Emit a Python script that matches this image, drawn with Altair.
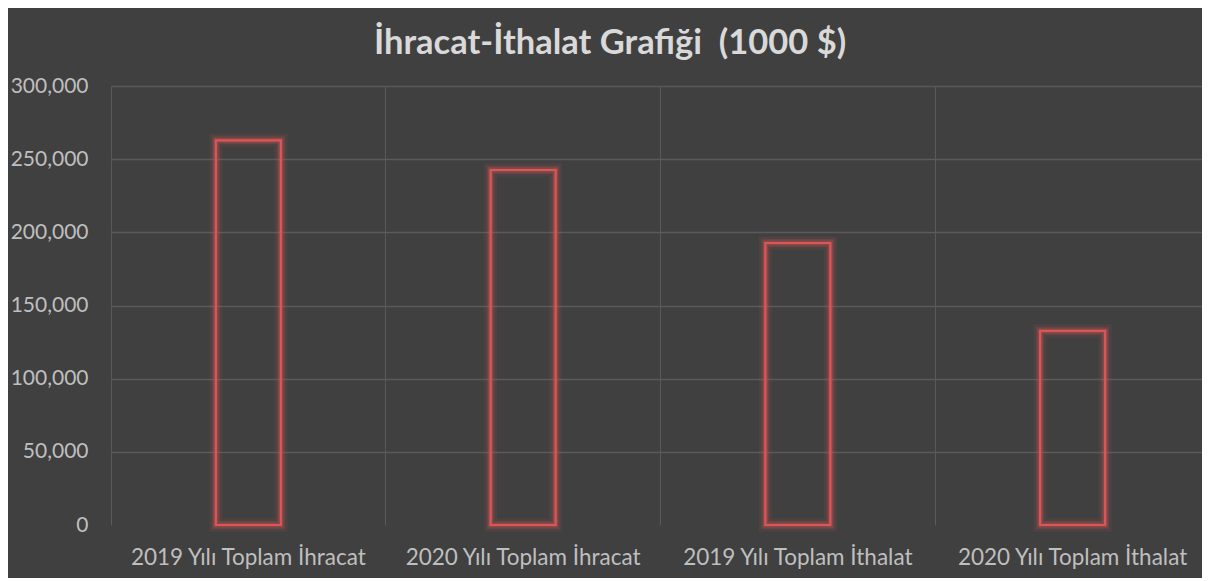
import altair as alt
import pandas as pd

categories = [
    "2019 Yılı Toplam İhracat",
    "2020 Yılı Toplam İhracat",
    "2019 Yılı Toplam İthalat",
    "2020 Yılı Toplam İthalat",
]
values = [262900, 242600, 192700, 132600]
y_ticks = [0, 50000, 100000, 150000, 200000, 250000, 300000]

df = pd.DataFrame({"category": categories, "value": values})

FONT = "Lato"
BG = "#404040"
GRID = "#5a5a5a"
RED = "#de5555"

x_enc = alt.X(
    "category:N",
    sort=categories,
    scale=alt.Scale(paddingInner=0, paddingOuter=0, range=[0, 1099]),
    axis=alt.Axis(
        title=None,
        labelAngle=0,
        domain=False,
        ticks=False,
        grid=True,
        bandPosition=0,
        gridColor=GRID,
        gridWidth=1,
        labelFont=FONT,
        labelFontSize=22.5,
        labelColor="#bfbfbf",
        labelPadding=21,
        labelLimit=0,
    ),
)
y_enc = alt.Y(
    "value:Q",
    scale=alt.Scale(domain=[0, 300000]),
    axis=alt.Axis(
        title=None,
        values=y_ticks,
        format=",d",
        domain=False,
        ticks=False,
        grid=True,
        gridColor=GRID,
        gridWidth=1.5,
        gridOpacity=alt.condition("datum.value == 0", alt.value(0), alt.value(1)),
        labelFont=FONT,
        labelFontSize=21,
        labelColor="#bfbfbf",
        labelPadding=23,
    ),
)

base = alt.Chart(df).encode(x=x_enc, y=y_enc)

glow1 = base.mark_bar(size=65, fill=None, stroke=RED, strokeWidth=13, strokeOpacity=0.09)
glow2 = base.mark_bar(size=65, fill=None, stroke=RED, strokeWidth=8, strokeOpacity=0.16)
glow3 = base.mark_bar(size=65, fill=None, stroke=RED, strokeWidth=5, strokeOpacity=0.28)
main = base.mark_bar(size=65, fill=None, stroke=RED, strokeWidth=2.2)

chart = (
    alt.layer(glow1, glow2, glow3, main)
    .properties(
        width=1091,
        height=439,
        autosize=alt.AutoSizeParams(type="none"),
        padding={"left": 103, "top": 78, "right": 0, "bottom": 53},
        background=BG,
        title=alt.TitleParams(
            text="İhracat-İthalat Grafiği\u00a0\u00a0(1000 $)",
            font=FONT,
            fontSize=34.5,
            fontWeight="bold",
            color="#d9d9d9",
            anchor="middle",
            frame="bounds",
            offset=14,
        ),
    )
    .configure_view(stroke=None)
)

chart.save("out.html", embed_options={"renderer": "svg", "actions": False})
